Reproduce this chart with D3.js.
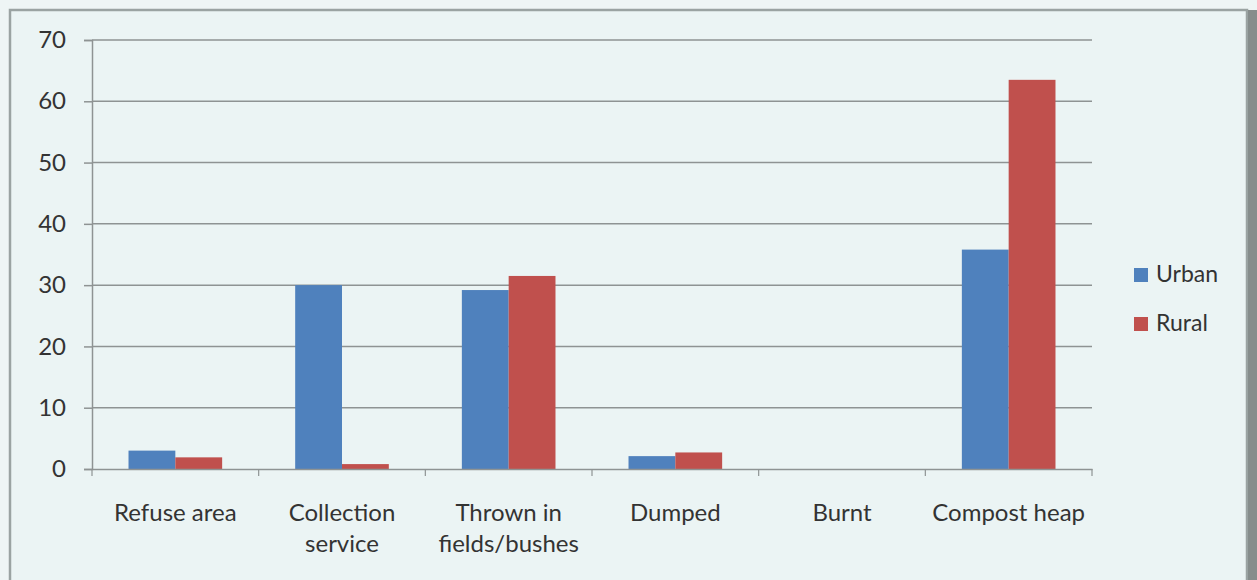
<!DOCTYPE html>
<html>
<head>
<meta charset="utf-8">
<script src="https://cdn.jsdelivr.net/npm/d3@7"></script>
<style>
  html, body { margin: 0; padding: 0; background: #eef5f5; }
  svg { display: block; }
  text { font-family: Lato, "Noto Sans", sans-serif; fill: #333; }
</style>
</head>
<body>
<svg id="chart" width="1257" height="580"></svg>
<script>
// Waste disposal method by area (%)
const categories = [
  ["Refuse area"],
  ["Collection", "service"],
  ["Thrown in", "fields/bushes"],
  ["Dumped"],
  ["Burnt"],
  ["Compost heap"]
];
const seriesNames = ["Urban", "Rural"];
const urban = [3.0, 30.0, 29.2, 2.1, 0, 35.8];
const rural = [1.9, 0.8, 31.5, 2.7, 0, 63.5];
const yTicks = [0, 10, 20, 30, 40, 50, 60, 70];
const colors = ["#4f81bd", "#c0504d"];

const svg = d3.select("#chart");

// chart frame
svg.append("rect")
  .attr("x", 10).attr("y", 10)
  .attr("width", 1237).attr("height", 600)
  .attr("fill", "#ebf4f4")
  .attr("stroke", "#9aa3a2").attr("stroke-width", 2.5);
svg.append("rect")
  .attr("x", 1248).attr("y", 10)
  .attr("width", 9).attr("height", 580)
  .attr("fill", "#868d8c");

const plot = { left: 92, right: 1092, top: 40, bottom: 469 };

const x = d3.scaleBand()
  .domain(d3.range(categories.length))
  .range([plot.left, plot.right])
  .paddingInner(0).paddingOuter(0);

// two bars per category, 150% gap split across both sides
const inner = d3.scaleBand()
  .domain(seriesNames)
  .range([0, x.bandwidth()])
  .paddingInner(0)
  .paddingOuter(0.78);

const y = d3.scaleLinear().domain([0, 70]).range([plot.bottom, plot.top]);

// value axis with left ticks
const yAxis = d3.axisLeft(y)
  .tickValues(yTicks)
  .tickSize(8)
  .tickPadding(18)
  .tickFormat(d3.format("d"));
const gy = svg.append("g")
  .attr("transform", `translate(${plot.left},0)`)
  .call(yAxis);
gy.select(".domain").attr("stroke", "#8e9393").attr("stroke-width", 1.5);
gy.selectAll(".tick line").attr("stroke", "#8e9393").attr("stroke-width", 1.5);
gy.selectAll(".tick text")
  .style("font-size", "24px").attr("fill", "#2b2b2b");

// horizontal gridlines
svg.append("g")
  .selectAll("line")
  .data(yTicks.filter(d => d > 0))
  .join("line")
  .attr("x1", plot.left).attr("x2", plot.right)
  .attr("y1", d => y(d)).attr("y2", d => y(d))
  .attr("stroke", "#8e9393").attr("stroke-width", 1.5);

// bars
const data = categories.map((c, i) => ({ i, values: [urban[i], rural[i]] }));
const groups = svg.append("g")
  .selectAll("g")
  .data(data)
  .join("g")
  .attr("transform", d => `translate(${x(d.i)},0)`);
groups.selectAll("rect")
  .data(d => d.values.map((v, k) => ({ v, k })))
  .join("rect")
  .attr("x", d => inner(seriesNames[d.k]))
  .attr("width", inner.bandwidth())
  .attr("y", d => y(d.v))
  .attr("height", d => y(0) - y(d.v))
  .attr("fill", d => colors[d.k]);

// category axis line
const xAxis = d3.axisBottom(x).tickSize(0).tickFormat("");
const gx = svg.append("g")
  .attr("transform", `translate(0,${plot.bottom})`)
  .call(xAxis);
gx.select(".domain").attr("stroke", "#8e9393").attr("stroke-width", 1.5);
gx.selectAll(".tick").remove();

// category separators
svg.append("g")
  .selectAll("line")
  .data(d3.range(categories.length + 1))
  .join("line")
  .attr("x1", i => i < categories.length ? x(i) : plot.right)
  .attr("x2", i => i < categories.length ? x(i) : plot.right)
  .attr("y1", plot.bottom).attr("y2", plot.bottom + 7)
  .attr("stroke", "#8e9393").attr("stroke-width", 1.2);

// category labels
svg.append("g")
  .selectAll("text")
  .data(categories.map((c, i) => ({ c, i })))
  .join("text")
  .attr("x", d => x(d.i) + x.bandwidth() / 2)
  .attr("y", 521)
  .attr("text-anchor", "middle")
  .style("font-size", "24px")
  .attr("fill", "#2b2b2b")
  .selectAll("tspan")
  .data(d => d.c.map((line, j) => ({ line, j, cx: x(d.i) + x.bandwidth() / 2 })))
  .join("tspan")
  .attr("x", d => d.cx)
  .attr("dy", d => d.j === 0 ? 0 : 31)
  .text(d => d.line);

// legend
const legend = svg.append("g")
  .selectAll("g")
  .data(seriesNames)
  .join("g")
  .attr("transform", (d, i) => `translate(1134,${268 + i * 49})`);
legend.append("rect")
  .attr("width", 14).attr("height", 14)
  .attr("fill", (d, i) => colors[i]);
legend.append("text")
  .attr("x", 22).attr("y", 14)
  .style("font-size", "23px")
  .attr("fill", "#2b2b2b")
  .text(d => d);
</script>
</body>
</html>
